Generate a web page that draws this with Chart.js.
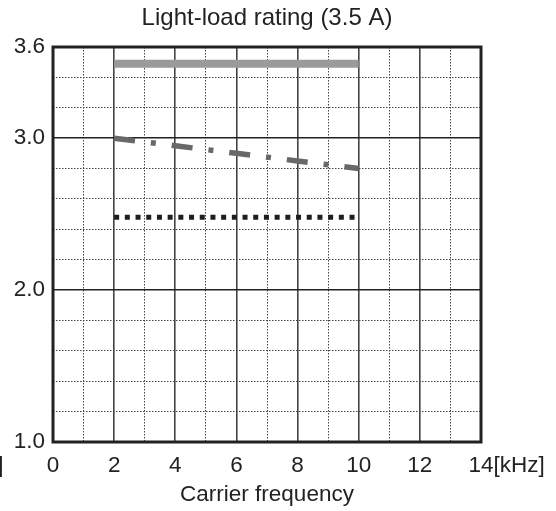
<!DOCTYPE html>
<html>
<head>
<meta charset="utf-8">
<script src="https://cdn.jsdelivr.net/npm/chart.js@4"></script>
<style>
  html, body { margin: 0; padding: 0; background: #fff; }
  #wrap { width: 556px; height: 511px; position: relative; }
</style>
</head>
<body>
<div id="wrap"><canvas id="c" width="556" height="511"></canvas></div>
<script>
// ---- data ----
const freqKHz = [2, 4, 6, 8, 10];
const solidSeries = [3.49, 3.49, 3.49, 3.49, 3.49];
const dashDotSeries = [3.0, 2.95, 2.9, 2.85, 2.8];
const dottedSeries = [2.48, 2.48, 2.48, 2.48, 2.48];
const yLabelValues = [1.0, 2.0, 3.0, 3.6];
const xLabelValues = [0, 2, 4, 6, 8, 10, 12, 14];
const titleText = 'Light-load rating (3.5 A)';
const xTitleText = 'Carrier frequency';
const xUnitText = '[kHz]';

const FONT = "'Liberation Sans', Arial, sans-serif";
const FS = 22.5;
const TXT = '#222';

function pts(ys) { return freqKHz.map((x, i) => ({ x: x, y: ys[i] })); }
function near(v, arr) { return arr.some(a => Math.abs(a - v) < 1e-6); }
function isInt(v) { return Math.abs(v - Math.round(v)) < 1e-6; }
function isEven(v) { return isInt(v) && Math.round(v) % 2 === 0; }

const framePlugin = {
  id: 'frame',
  afterDraw(chart) {
    const { ctx, chartArea: a, scales } = chart;
    ctx.save();
    ctx.strokeStyle = '#222';
    ctx.lineWidth = 3;
    ctx.setLineDash([]);
    ctx.strokeRect(a.left, a.top, a.right - a.left, a.bottom - a.top);
    // unit after last x tick label
    ctx.font = FS + 'px ' + FONT;
    ctx.fillStyle = TXT;
    ctx.textBaseline = 'middle';
    const xs = scales.x;
    const px = xs.getPixelForValue(14);
    const w14 = ctx.measureText('14').width;
    ctx.textAlign = 'left';
    const ly = a.bottom + 24;
    ctx.fillText(xUnitText, px + w14 / 2, ly);
    // cut-off bracket at far left
    ctx.textAlign = 'right';
    ctx.fillText(']', 3.5, ly);
    ctx.restore();
  }
};

new Chart(document.getElementById('c'), {
  type: 'line',
  data: {
    datasets: [
      {
        data: pts(solidSeries),
        borderColor: '#9a9a9a',
        borderWidth: 8,
        borderCapStyle: 'butt',
        pointRadius: 0,
        fill: false
      },
      {
        data: pts(dashDotSeries),
        borderColor: '#686868',
        borderWidth: 5.5,
        borderDash: [21, 16, 5, 16],
        borderCapStyle: 'butt',
        pointRadius: 0,
        fill: false
      },
      {
        data: pts(dottedSeries),
        borderColor: '#1e1e1e',
        borderWidth: 5,
        borderDash: [5, 5.7],
        borderCapStyle: 'butt',
        pointRadius: 0,
        fill: false
      }
    ]
  },
  options: {
    responsive: false,
    animation: false,
    devicePixelRatio: 1,
    layout: { padding: { left: 0, right: 75, top: 0, bottom: 0 } },
    plugins: {
      legend: { display: false },
      tooltip: { enabled: false },
      title: {
        display: true,
        text: titleText,
        fullSize: false,
        color: TXT,
        font: { family: FONT, size: 24, weight: 'normal' },
        padding: { top: 4, bottom: 14.2 }
      }
    },
    scales: {
      x: {
        type: 'linear',
        min: 0,
        max: 14,
        afterFit(s) { s.height = 69; },
        ticks: {
          stepSize: 1,
          autoSkip: false,
          maxRotation: 0,
          padding: 10,
          color: TXT,
          font: { family: FONT, size: FS },
          callback: (v) => near(v, xLabelValues) ? String(v) : ''
        },
        grid: {
          drawTicks: false,
          color: (c) => isEven(c.tick.value) ? '#444' : '#444',
          lineWidth: (c) => isEven(c.tick.value) ? 1.6 : 1
        },
        border: {
          display: false,
          dash: (c) => (c.tick && isEven(c.tick.value)) ? [] : [1.5, 1.5]
        },
        title: {
          display: true,
          text: xTitleText,
          color: TXT,
          font: { family: FONT, size: FS },
          padding: { top: 0, bottom: 3 }
        }
      },
      y: {
        type: 'linear',
        min: 1.0,
        max: 3.6,
        afterFit(s) { s.width = 53; },
        ticks: {
          stepSize: 0.2,
          autoSkip: false,
          padding: 8,
          color: TXT,
          font: { family: FONT, size: FS },
          callback: (v) => near(v, yLabelValues) ? Number(v).toFixed(1) : ''
        },
        grid: {
          drawTicks: false,
          color: (c) => isInt(c.tick.value) ? '#222' : '#444',
          lineWidth: (c) => isInt(c.tick.value) ? 1.6 : 1
        },
        border: {
          display: false,
          dash: (c) => (c.tick && isInt(c.tick.value)) ? [] : [1.5, 1.5]
        }
      }
    }
  },
  plugins: [framePlugin]
});
</script>
</body>
</html>
